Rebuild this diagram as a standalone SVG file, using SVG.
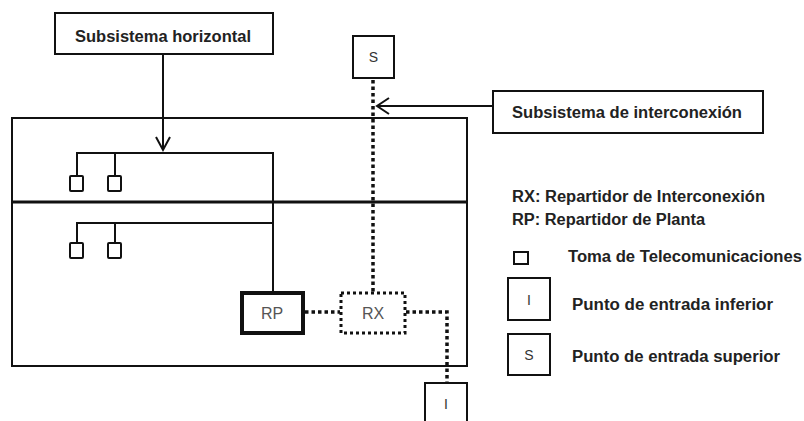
<svg xmlns="http://www.w3.org/2000/svg" width="804" height="421" viewBox="0 0 804 421">
<style>
.ln{fill:none;stroke:#111;stroke-width:2}
.box{fill:#fff;stroke:#111;stroke-width:2}
.dot{fill:none;stroke:#111;stroke-width:3.5;stroke-dasharray:3.5 3}
.t{font-family:"Liberation Sans",Arial,sans-serif;font-weight:bold;font-size:16px;fill:#222}
.tb{font-size:17px}
.tn{font-family:"Liberation Sans",Arial,sans-serif;font-size:14px;fill:#333;text-anchor:middle}
.tr{font-size:16px;fill:#555}
</style>
<rect width="804" height="421" fill="#fff"/>
<g id="building">
<rect x="12" y="118" width="455" height="248" class="ln"/>
<line x1="12" y1="202" x2="467" y2="202" stroke="#111" stroke-width="3"/>
</g>
<g id="connectors">
<polyline class="ln" points="77,176 77,153 273,153 273,292"/>
<line class="ln" x1="115" y1="153" x2="115" y2="176"/>
<polyline class="ln" points="77,243 77,223 273,223"/>
<line class="ln" x1="115" y1="223" x2="115" y2="243"/>
<line class="ln" x1="163" y1="54" x2="163" y2="150"/>
<polyline class="ln" points="156,137 163,150 170,137"/>
<line class="ln" x1="493" y1="106" x2="377" y2="106"/>
<polyline class="ln" points="389,98 377,106 389,114"/>
<line class="dot" x1="373" y1="80" x2="373" y2="292"/>
<line class="dot" x1="305" y1="312" x2="340" y2="312"/>
<polyline class="dot" points="406,312 447,312 447,382"/>
</g>
<g id="subsistema-horizontal">
<rect x="55" y="13" width="218" height="41" class="box"/>
<text class="t tb" x="75" y="42" textLength="176" lengthAdjust="spacingAndGlyphs">Subsistema horizontal</text>
</g>
<g id="subsistema-interconexion">
<rect x="493" y="91" width="270" height="42" class="box"/>
<text class="t tb" x="512" y="118" textLength="230" lengthAdjust="spacingAndGlyphs">Subsistema de interconexión</text>
</g>
<g id="S">
<rect x="353" y="36" width="41" height="42" class="box"/>
<text class="tn" x="373.5" y="62">S</text>
</g>
<g id="tomas">
<rect x="70" y="176" width="13" height="15" rx="1" class="box"/>
<rect x="108" y="176" width="13" height="15" rx="1" class="box"/>
<rect x="70" y="243" width="13" height="15" rx="1" class="box"/>
<rect x="108" y="243" width="13" height="15" rx="1" class="box"/>
</g>
<g id="RP">
<rect x="242" y="293" width="61" height="40" fill="#fff" stroke="#111" stroke-width="4"/>
<text class="tn tr" x="272" y="319">RP</text>
</g>
<g id="RX">
<rect x="341" y="293" width="64" height="40" fill="#fff" stroke="#111" stroke-width="3" stroke-dasharray="3 3"/>
<text class="tn tr" x="373" y="319">RX</text>
</g>
<g id="I">
<rect x="425" y="383" width="42" height="42" class="box"/>
<text class="tn" x="446" y="409">I</text>
</g>
<g id="legend">
<text class="t" x="512" y="202" textLength="253" lengthAdjust="spacingAndGlyphs">RX: Repartidor de Interconexión</text>
<text class="t" x="512" y="225" textLength="193" lengthAdjust="spacingAndGlyphs">RP: Repartidor de Planta</text>
<rect x="514" y="252" width="14" height="12" class="box"/>
<text class="t" x="568" y="262" textLength="234" lengthAdjust="spacingAndGlyphs">Toma de Telecomunicaciones</text>
<rect x="508" y="278" width="42" height="42" class="box"/>
<text class="tn" x="529" y="305">I</text>
<text class="t" x="572" y="310" textLength="201" lengthAdjust="spacingAndGlyphs">Punto de entrada inferior</text>
<rect x="508" y="334" width="42" height="41" class="box"/>
<text class="tn" x="529" y="360">S</text>
<text class="t" x="572" y="362" textLength="208" lengthAdjust="spacingAndGlyphs">Punto de entrada superior</text>
</g>
</svg>
